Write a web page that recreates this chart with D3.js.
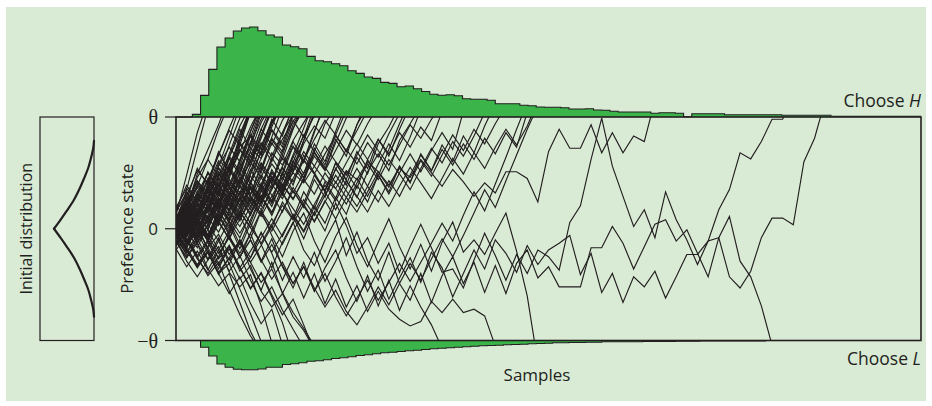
<!DOCTYPE html>
<html><head><meta charset="utf-8">
<script src="https://cdn.jsdelivr.net/npm/d3@7"></script>
<style>html,body{margin:0;padding:0;background:#fff;} svg{display:block;}</style>
</head><body><svg id="c" width="932" height="406"></svg>
<script>
// ---------------- data ----------------
const tickValues = [10, 0, -10];
const tickLabels = ["θ", "0", "−θ"];
const axisLabelY = "Preference state";
const axisLabelX = "Samples";
const initLabel = "Initial distribution";
const topLabel = ["Choose ", "H"];
const bottomLabel = ["Choose ", "L"];

// histogram of hitting times at +θ (bins of equal width)
const topHist = [0,0,2.6,21.6,47.6,70,79,86,89,90, 86.3,82,80,72,70.3,68.3,60.6,56.3,55.3,53.3,
  51.3,46.3,43.6,40,38.6,34.6,33.6,30.3,31,28.3, 25.5,22.7,21.7,22.3,21.3,18.3,17.7,17.7,16.7,13.3,
  13.3,13.3,11.7,11.3,10,9.7,9.7,9.3,8,8, 8.3,7,6.7,5.7,5,5,5,5,3.7,4.3,
  4.3,3.7,0.3,3.3,3.3,3.3,3.3,2.3,2.3,2.3, 2.3,2.3,2.3,2.3,1.7,1.7,1.7,1.7,1.7,1.7,
  0.8,0.8,0.8,0.8,0.8,0.8,0.8,0.8,0.8,0.8, 0.8];
// histogram of hitting times at −θ
const botHist = [0,0,0,6.7,15.5,23.5,26.7,28.7,29.3,29.3, 28.5,26.7,26.7,24,23.3,22.3,20.7,20.3,19.3,18,
  17.3,16.3,15,14.3,13.3,12.3,11.7,11,10.3,9.7, 9,8.3,7.7,7.3,6.7,6.3,5.7,5.3,5,4.7,
  4.3,4,3.7,3.3,3,2.7,2.3,2.3,2,2, 1.7,1.7,1.3,1.3,1.3,1.3,1.3,1,1,1,
  1,0.8,0.8,0.8,0.5,0.5,0.5,0.5,0.5,0.5, 0.5,0.5,0,0,0,0,0,0,0,0,
  0,0,0,0,0,0,0,0,0,0, 0];

// initial distribution (one arm, mirrored): |state| and density
const initU = [0, 0.8, 1.6, 2.6, 3.67, 4.5, 5.46, 6.4, 7.25, 7.87];
const initD = [40, 33.5, 27.3, 20, 14, 10, 5.7, 2.8, 0.7, 0];

// sample paths of the preference state (one value per sample)
const paths = [
 [0.3,3.5,7.2,10.8],
 [1.2,4.8,8.6,11.5],
 [-0.5,1.8,4.9,7.1,9.3,12],
 [0.8,2.1,4.6,6.2,8.9,11.2],
 [-1.2,0.4,3.1,2.4,5.6,8.2,10.9],
 [0.1,1.9,1.0,3.8,6.1,5.3,8.0,10.6],
 [1.6,3.0,5.2,4.1,6.6,8.8,7.5,10.4],
 [-0.3,-1.8,0.6,2.9,1.7,4.8,6.9,9.1,11],
 [0.6,2.4,1.2,3.3,5.9,4.5,7.4,8.2,10.8],
 [-1.6,0.2,-0.9,1.8,3.9,2.6,5.1,7.8,6.6,9.4,11.2],
 [2.1,0.8,2.9,4.2,3.0,5.7,7.1,6.0,8.4,10.5],
 [-0.8,1.1,0.2,-1.0,1.5,3.6,2.4,4.9,6.8,8.9,7.6,10.3],
 [0.4,-0.7,1.3,3.0,1.9,0.6,2.8,4.7,3.5,6.2,8.0,9.6,11],
 [1.0,2.6,1.4,3.7,5.0,3.8,5.5,7.2,6.3,8.1,6.9,9.0,10.7],
 [-0.2,0.9,2.7,1.6,3.4,2.1,4.3,6.0,4.6,6.8,5.7,7.9,9.5,11],
 [0.7,-0.6,0.5,2.2,1.1,3.2,4.9,3.7,2.5,4.4,6.3,5.2,7.6,9.2,8.1,10.4],
 [-1.0,-2.2,-0.8,1.0,-0.3,1.6,3.3,2.0,4.0,5.8,4.5,6.4,8.3,10.1],
 [1.9,3.6,2.3,4.5,3.1,5.3,4.0,6.1,7.7,6.5,8.6,10.2],
 [-0.4,1.4,3.1,5.0,3.8,6.4,8.5,10.6],
 [0.2,2.0,3.9,2.6,4.2,6.7,9.2,11],
 [-1.4,-0.1,1.7,0.5,2.3,4.1,3.0,5.2,7.4,9.6,11.3],
 [0.9,-0.4,1.0,-0.7,0.8,2.5,1.2,3.1,4.8,3.6,5.6,7.3,6.1,8.0,9.7,8.4,10.6],
 [-0.6,0.7,-0.9,0.3,2.0,0.9,2.7,1.4,3.3,5.1,3.9,2.6,4.5,6.5,5.2,7.0,8.8,7.5,9.4,11],
 [0.5,1.7,0.4,2.2,0.8,2.6,4.3,2.9,1.7,3.5,5.4,4.2,6.1,4.9,3.4,5.3,7.1,5.8,7.7,6.4,8.5,10.3],
 [-0.1,-1.3,0.1,1.8,0.6,-0.9,0.9,2.4,1.1,2.9,4.6,3.2,5.0,6.8,5.5,4.1,5.9,7.6,6.2,8.0,6.7,8.6,7.3,9.1,7.9,10.5],
 [1.3,0.1,1.9,3.4,2.0,3.8,2.5,4.2,5.9,4.6,3.3,5.1,6.9,5.6,7.4,6.0,4.8,6.6,8.4,7.0,5.7,7.5,9.3,8.1,9.8,11],
 [-0.9,0.5,2.2,1.0,2.8,1.5,0.2,2.0,3.7,2.3,4.0,2.7,4.4,3.1,5.0,3.6,2.2,4.1,5.8,4.4,6.2,4.9,3.5,5.4,7.2,5.9,7.8,6.5,8.3,10.4],
 [0.0,1.5,0.2,-1.1,0.6,2.3,0.9,2.7,1.3,-0.2,1.6,3.4,2.0,0.7,2.4,4.2,2.8,1.5,3.3,5.1,3.7,5.6,4.2,6.1,4.7,6.6,8.4,7.0,8.9,7.6,9.4,11],
 [0.6,-0.7,0.8,-0.5,1.2,-0.2,1.5,0.1,-1.3,0.4,2.1,0.8,2.6,1.2,3.0,4.8,3.4,2.0,3.8,2.4,4.3,2.9,4.8,6.6,5.2,7.1,5.7,7.6,6.2,8.1,6.7,8.6,7.3,10.4],
 [1.5,3.3,2.0,4.4,6.6,9.0,11.2],
 [-0.7,1.0,2.8,1.6,4.0,5.4,7.9,10.5],
 [0.9,2.5,4.3,3.1,5.6,7.3,6.0,8.7,11],
 [-1.9,-0.6,1.3,0.0,2.1,4.4,3.2,5.7,8.1,10.7],
 [0.4,2.2,1.0,2.9,4.7,6.5,5.1,7.6,9.8,11.5],
 [1.1,-0.2,1.6,3.5,5.4,4.0,6.0,8.4,7.1,9.5,11],
 [-0.3,1.3,3.2,2.0,3.9,5.8,7.7,6.4,8.9,7.5,9.7,11.3],
 [0.8,-0.5,1.2,2.9,1.6,0.2,1.9,3.6,2.3,4.0,2.7,4.5,6.2,4.9,6.7,8.3,7.0,8.8,10.6],
 [-0.5,0.8,-0.7,0.9,2.5,1.1,-0.4,1.3,2.9,1.5,3.2,1.8,0.4,2.2,3.9,2.5,4.3,2.9,1.5,3.4,2.0,3.8,5.5,4.1,2.7,4.5,6.3,4.9,6.8,5.4,7.3,8.9,7.5,9.2,11.4],
 [0.5,2.9,1.4,4.1,6.9,5.2,8.3,10.9],
 [-0.9,1.5,3.8,6.2,4.7,7.5,9.9,11.5],
 [1.3,0.2,2.6,5.0,3.4,6.3,4.8,7.7,10.6],
 [-0.1,2.3,0.9,3.7,2.0,4.9,7.6,6.0,8.9,11],
 [0.3,-1.2,1.1,3.9,2.2,5.3,3.6,6.5,5.0,8.2,10.9],
 [-1.3,0.9,-0.6,2.0,4.6,3.1,5.9,4.2,7.0,9.8,8.3,11],
 [1.7,3.9,2.4,5.1,3.5,6.4,8.9,7.2,10.4],
 [0.0,2.6,5.4,3.9,6.8,5.1,7.9,10.7],
 [-0.6,0.9,3.4,1.8,4.5,2.9,5.6,8.3,6.6,9.1,11.4],
 [0.9,3.2,1.7,0.3,2.8,5.6,4.0,6.9,5.4,8.0,6.6,9.3,11],
 [-0.4,1.9,4.3,2.7,5.5,3.8,2.1,4.9,7.6,6.0,8.6,10.8],
 [1.2,-0.3,2.2,0.6,3.3,1.7,4.6,3.0,5.8,4.1,7.0,9.7,8.2,10.9],
 [0.2,-1.4,0.9,-0.7,1.8,4.4,2.8,1.2,3.9,2.3,5.0,7.8,6.1,8.8,11],
 [-0.3,1.2,-0.4,2.1,0.5,3.0,1.4,4.2,2.6,5.3,3.7,6.5,4.9,7.6,6.0,8.7,11.2],
 [0.6,2.1,0.6,-0.9,1.6,0.0,2.7,5.3,3.7,6.4,4.8,7.4,5.9,8.6,11.5],
 [-0.7,-2.1,-0.5,1.9,0.3,2.8,1.1,3.6,2.0,4.6,3.0,5.7,4.2,6.9,5.3,8.0,6.5,9.3,11.5],
 [1.4,0.0,1.5,-0.1,2.4,0.8,3.3,1.7,4.1,2.5,5.0,3.4,1.9,4.4,2.8,5.4,3.9,6.4,4.9,7.6,9.1,11],
 [0.1,1.6,3.0,1.4,3.9,2.2,0.7,2.9,1.3,3.8,5.5,3.9,6.6,5.0,3.4,5.9,4.3,2.8,5.1,6.7,5.2,7.9,9.4,11],
 [-1.2,0.3,-1.3,0.4,-1.1,-2.8,-1.3,-3.0,-1.5,0.2,-1.4,0.5,2.2,0.6,2.5,0.9,2.8,4.5,2.9,4.8,3.1,5.0,6.7,5.1,7.0,8.6,7.1,10.5],
 [-0.2,-1.6,-0.1,-1.7,-3.3,-1.8,-3.5,-2.0,-0.4,-2.1,-0.5,1.2,-0.3,1.5,3.3,1.7,3.6,5.4,3.8,5.8,7.6,6.1,8.2,10.7],
 [0.9,-0.5,1.0,-0.6,-2.2,-0.8,-2.5,-1.0,-2.8,-4.5,-3.0,-4.9,-3.4,-5.3,-7.0,-5.5,-7.4,-8.6,-7.0,-5.2,-6.8,-4.9,-3.1,-4.6,-2.7,-0.9,-2.5,-0.6,1.4,3.5,1.9,4.3,6.6,8.9,11],
 [-0.2,1.6,0.4,2.9,5.1,3.6,6.2,8.7,11],
 [0.7,2.8,1.3,3.5,2.1,4.8,7.1,5.6,8.4,10.8],
 [-1.1,-2.6,-0.9,1.2,3.6,2.0,4.4,6.9,9.5,11.2],
 [0.3,1.9,3.7,2.2,0.8,3.0,5.5,4.0,6.3,8.8,7.3,10.1],
 [1.4,-0.1,-1.7,0.4,2.7,1.2,3.9,2.5,5.2,7.7,6.2,8.9,11.3],
 [-0.5,-2.0,-3.3,-1.6,0.6,-0.9,1.5,3.8,2.3,4.7,3.2,5.9,8.4,6.9,9.4,11],
 [0.0,1.4,-0.2,2.3,4.0,2.5,4.6,3.1,5.5,4.0,6.6,5.1,7.9,10.3],
 [0.8,-0.9,-2.4,-1.0,1.1,-0.4,2.0,0.5,2.9,1.4,3.8,6.0,4.5,6.8,5.3,7.7,9.9,11.4],
 [-0.8,0.6,2.4,0.9,3.1,1.6,3.9,2.3,4.6,3.0,1.5,3.7,2.2,4.8,3.3,5.9,4.4,6.9,5.4,8.0,6.5,8.9,11],
 [0.4,-1.0,-2.7,-4.0,-2.5,-0.7,-2.2,-0.4,1.6,0.1,2.4,0.9,3.3,1.8,4.2,2.7,5.1,3.6,6.2,4.7,7.1,9.4,11.5],
 [1.0,2.4,4.1,2.5,4.9,3.3,1.8,4.1,2.6,5.0,3.5,6.1,4.6,7.2,5.7,8.4,6.9,9.3,11],
 [-0.3,-1.9,-3.4,-2.0,-4.1,-2.6,-1.0,-2.6,-0.8,0.9,-0.7,1.3,-0.2,2.0,0.5,2.8,1.3,3.9,2.4,4.8,3.3,5.6,4.1,6.7,5.2,7.5,6.0,8.3,6.8,9.2,11.2],
 [0.6,2.0,0.5,-1.1,0.7,-0.9,-2.5,-1.0,-3.0,-1.4,-3.3,-4.9,-3.4,-5.6,-4.0,-6.1,-7.8,-6.2,-4.6,-6.4,-4.8,-3.1,-4.7,-3.0,-1.3,0.5,-1.1,1.2,3.3,1.6,4.0,6.4,8.9,11.3],
 [-1.8,-3.4,-2.0,-3.7,-1.9,-0.2,1.6,0.1,2.4,4.6,3.0,5.5,7.9,10.4],
 [-1.0,-2.9,-4.3,-2.8,-1.1,0.7,-0.8,1.4,3.5,2.0,4.3,6.6,9.0,11.5],
 // long path reaching +θ late
 [0.5,1.8,0.9,2.6,1.7,3.2,2.1,3.8,2.9,4.6,3.5,5.0,4.1,5.6,4.3,3.6,5.2,4.4,6.0,5.1,3.9,5.4,4.6,6.2,5.0,3.8,5.3,4.2,2.9,4.1,3.2,5.1,5.1,4.5,2.4,6.9,8.9,7.2,7.2,9.3,6.8,8.6,6.8,8.3,7.8,11.5],
 [1.0,-0.6,1.8,0.9,2.7,0.6,-1.4,0.8,2.9,1.2,3.4,1.1,-0.9,1.5,-0.2,2.3,0.3,-2.2,-0.8,-3.1,-1.3,-3.9,-1.6,0.4,-1.7,-3.9,-3.6,-5.3,-2.8,-0.4,-2.4,-4.6,-2.3,-4.0,-1.9,-2.5,-3.7,0.56,2.05,6.2,9.9,5.6,2.9,0.2,1.7,-0.8,3.3,0.8,-1.0,-3.2,-1.1,1.7,3.5,6.8,6.25,7.8,9.8,9.8,12],
 [0.2,-1.4,0.3,-1.9,-3.6,-1.5,-3.8,-2.6,-0.3,-2.2,-4.6,-2.5,-4.4,-2.1,-4.7,-2.9,-0.8,-3.4,-5.6,-3.7,-6.3,-4.4,-2.6,-4.8,-2.1,-3.5,-6.1,-4.0,-1.9,-3.6,-1.0,-2.2,-3.9,-1.5,-3.2,-1.9,-1.3,-0.6,-4.1,-2.2,-5.7,-4.0,-6.6,-4.3,-5.2,-3.8,-6.2,-4.3,-2.3,-2.3,-1.1,-0.8,-4.3,-5.3,-3.8,-0.8,0.95,0.95,0.36,6.0,8.1,11.5],
 [-0.7,0.9,-1.2,1.0,2.6,0.4,-1.8,0.5,-1.4,-3.5,-1.2,0.6,-1.9,-3.3,-1.0,0.8,-2.4,-0.3,-2.9,-4.6,-2.1,-4.9,-6.4,-4.0,-6.6,-4.2,-2.5,-4.9,-3.0,-5.7,-3.3,-5.8,-3.1,-1.9,-4.4,-3.4,-5.2,-5.2,-5.2,-1.7,-1.7,0.2,-1.3,-3.6,-1.6,0.4,0.8,-1.1,-0.1,-2.2,-4.3,-0.8,1.1,-2.9,-4.3,-6.9,-10.4],
 // paths reaching −θ
 [-0.6,-2.4,-1.3,-3.6,-5.1,-4.0,-6.6,-9.2,-11],
 [-1.5,-0.4,-2.5,-4.2,-3.0,-5.5,-7.7,-9.6,-11],
 [0.2,-1.4,-0.3,-2.2,-4.0,-3.1,-5.4,-7.6,-10.1],
 [-0.9,0.5,-1.3,-2.8,-1.6,-3.9,-5.2,-4.1,-6.9,-10.2],
 [0.7,-0.6,0.8,-1.0,-2.7,-1.5,-3.4,-5.3,-4.0,-6.1,-8.4,-11.5],
 [-1.1,-2.6,-1.2,-0.1,-1.9,-3.8,-2.4,-4.6,-6.5,-5.2,-7.3,-9.0,-10.6],
 [0.1,1.4,0.0,-1.7,-0.5,-2.3,-1.1,-3.0,-4.8,-3.6,-5.7,-7.5,-8.9,-10.5],
 [-0.2,-1.7,-3.2,-2.0,-3.9,-2.6,-4.5,-3.3,-5.6,-7.0,-5.8,-7.9,-9.1,-10.8],
 [-0.4,-1.9,-3.5,-2.1,-4.0,-5.8,-4.3,-6.7,-8.5,-7.2,-10.4],
 [0.5,-0.9,-2.6,-1.2,-3.1,-1.6,-3.5,-5.4,-3.9,-5.9,-7.7,-6.3,-8.6,-11],
 [0.3,-1.4,0.8,-1.2,1.3,-0.6,-2.6,-0.4,-2.9,-0.9,-3.4,-5.3,-3.0,-5.6,-3.5,-1.9,-4.4,-6.5,-4.2,-6.9,-4.6,-7.3,-5.1,-7.0,-8.6,-10.7],
 [-0.4,1.1,-0.9,-2.7,-0.8,-3.2,-1.0,-3.6,-5.5,-3.0,-5.8,-3.9,-6.2,-4.0,-6.7,-4.5,-7.0,-5.1,-7.4,-5.6,-7.2,-8.1,-8.7,-8.3,-6.5,-7.5,-6.3,-7.5,-7.2,-7.8,-10.5],
 [0.6,-1.1,1.0,-0.9,-2.6,-0.5,1.2,-0.9,1.6,-0.6,-2.5,-0.2,1.4,-1.1,-3.0,-0.7,1.0,-1.5,-3.4,-1.2,0.9,-1.6,-3.6,-1.4,-3.8,-1.2,0.6,-2.1,-1.0,-2.3,-0.4,1.4,-2.0,-6.0,-12]
];

// ---------------- drawing ----------------
const svg = d3.select("#c");
const plotL = 176, plotR = 921, plotT = 117, plotB = 340.5;
const ink = "#231f20", fillGreen = "#3bb54a", bg = "#d9ead5";
const font = "'Open Sans', 'Noto Sans', sans-serif";

svg.append("rect").attr("x", 6).attr("y", 7).attr("width", 920).attr("height", 394).attr("fill", bg);

const x = d3.scaleLinear().domain([0, 70]).range([plotL, plotR]);
const y = d3.scaleLinear().domain([-10, 10]).range([plotB, plotT]);
const xb = d3.scaleLinear().domain([0, topHist.length]).range([plotL, plotR]);
const hs = d3.scaleLinear().domain([0, 100]).range([0, 100]);

// histograms
function histPts(arr) {
  const pts = arr.map((v, i) => [i, v]);
  pts.push([arr.length, arr[arr.length - 1]]);
  return pts;
}
const topArea = d3.area().curve(d3.curveStepAfter)
  .x(d => xb(d[0])).y0(plotT).y1(d => plotT - hs(d[1]));
const topLine = d3.line().curve(d3.curveStepAfter)
  .x(d => xb(d[0])).y(d => plotT - hs(d[1]));
const botArea = d3.area().curve(d3.curveStepAfter)
  .x(d => xb(d[0])).y0(plotB).y1(d => plotB + hs(d[1]));
const botLine = d3.line().curve(d3.curveStepAfter)
  .x(d => xb(d[0])).y(d => plotB + hs(d[1]));

svg.append("path").attr("d", topArea(histPts(topHist))).attr("fill", fillGreen);
svg.append("path").attr("d", topLine(histPts(topHist))).attr("fill", "none")
  .attr("stroke", ink).attr("stroke-width", 1.1);
svg.append("path").attr("d", botArea(histPts(botHist))).attr("fill", fillGreen);
svg.append("path").attr("d", botLine(histPts(botHist.slice(0, 74)))).attr("fill", "none")
  .attr("stroke", ink).attr("stroke-width", 1.1);

// clip for paths
svg.append("clipPath").attr("id", "plotclip").append("rect")
  .attr("x", plotL).attr("y", plotT).attr("width", plotR - plotL).attr("height", plotB - plotT);

const pathLine = d3.line().x((d, i) => x(i)).y(d => y(d));
svg.append("g").attr("clip-path", "url(#plotclip)")
  .selectAll("path").data(paths).join("path")
  .attr("d", pathLine).attr("fill", "none").attr("stroke", ink)
  .attr("stroke-width", 1.15).attr("stroke-linejoin", "miter");

// plot frame
svg.append("rect").attr("x", plotL).attr("y", plotT).attr("width", plotR - plotL)
  .attr("height", plotB - plotT).attr("fill", "none").attr("stroke", ink).attr("stroke-width", 1.6);

// y ticks
svg.selectAll("line.tick").data(tickValues).join("line")
  .attr("x1", 165).attr("x2", plotL).attr("y1", d => y(d)).attr("y2", d => y(d))
  .attr("stroke", ink).attr("stroke-width", 1.2);
svg.selectAll("text.tl").data(tickValues).join("text")
  .attr("x", 158).attr("y", d => y(d)).attr("dy", "0.35em").attr("text-anchor", "end")
  .attr("font-family", (d, i) => i === 1 ? font : "'Liberation Serif', 'DejaVu Serif', serif")
  .attr("font-size", (d, i) => i === 1 ? 17 : 20).attr("fill", ink)
  .text((d, i) => tickLabels[i]);

// axis labels
svg.append("text").attr("transform", `translate(133,${(plotT + plotB) / 2}) rotate(-90)`)
  .attr("text-anchor", "middle").attr("font-family", font).attr("font-size", 17)
  .attr("fill", ink).text(axisLabelY);
svg.append("text").attr("x", 537).attr("y", 381).attr("text-anchor", "middle")
  .attr("font-family", font).attr("font-size", 17).attr("fill", ink).text(axisLabelX);

const tH = svg.append("text").attr("x", 921).attr("y", 107).attr("text-anchor", "end")
  .attr("font-family", font).attr("font-size", 17.5).attr("fill", ink);
tH.append("tspan").text(topLabel[0]);
tH.append("tspan").attr("font-style", "italic").text(topLabel[1]);
const tL = svg.append("text").attr("x", 921).attr("y", 365).attr("text-anchor", "end")
  .attr("font-family", font).attr("font-size", 17.5).attr("fill", ink);
tL.append("tspan").text(bottomLabel[0]);
tL.append("tspan").attr("font-style", "italic").text(bottomLabel[1]);

// initial distribution panel
const boxL = 40, boxR = 94;
svg.append("rect").attr("x", boxL).attr("y", plotT).attr("width", boxR - boxL)
  .attr("height", plotB - plotT).attr("fill", "none").attr("stroke", ink).attr("stroke-width", 1.2);
const ds = d3.scaleLinear().domain([0, 40]).range([0, 40]);
const arm = sign => d3.line().curve(d3.curveCatmullRom)
  .x((d, i) => boxR - ds(initD[i])).y(d => y(sign * d))(initU);
[1, -1].forEach(s => svg.append("path").attr("d", arm(s)).attr("fill", "none")
  .attr("stroke", ink).attr("stroke-width", 2.2).attr("stroke-linecap", "round"));
svg.append("text").attr("transform", `translate(32,${(plotT + plotB) / 2}) rotate(-90)`)
  .attr("text-anchor", "middle").attr("font-family", font).attr("font-size", 16)
  .attr("fill", ink).text(initLabel);
</script>
</body></html>
